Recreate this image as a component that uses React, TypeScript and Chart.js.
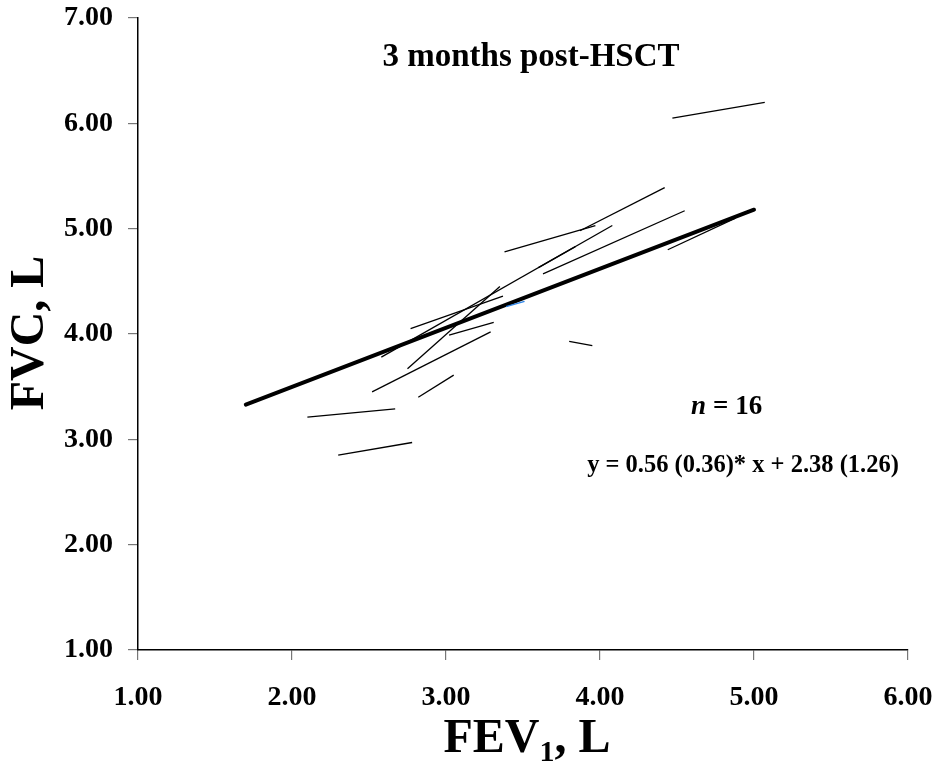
import React, { useEffect, useRef } from "react";
import { Chart, registerables } from "chart.js";

Chart.register(...registerables);

// Individual subject segments (start -> end)
const segX1 = [2.30, 2.10, 2.82, 2.52, 2.75, 2.77, 2.58, 3.60, 3.02, 3.38, 3.87, 3.63, 4.44, 4.47, 3.80];
const segY1 = [2.85, 3.21, 3.40, 3.45, 3.67, 4.05, 3.78, 4.63, 3.99, 4.78, 4.98, 4.57, 4.80, 6.05, 3.93];
const segX2 = [2.78, 2.67, 3.05, 3.29, 3.35, 3.37, 4.08, 3.84, 3.31, 3.97, 4.42, 4.55, 4.88, 5.07, 3.95];
const segY2 = [2.97, 3.29, 3.61, 4.02, 4.45, 4.36, 5.03, 4.83, 4.11, 5.03, 5.39, 5.17, 5.10, 6.20, 3.89];

// One segment drawn in blue (mostly hidden under the regression line)
const blueX = [3.39, 3.51];
const blueY = [4.26, 4.31];

// Regression line end points
const regX = [1.70, 5.00];
const regY = [3.33, 5.18];

const xTicks = [1, 2, 3, 4, 5, 6];
const yTicks = [1, 2, 3, 4, 5, 6, 7];

const titleText = "3 months post-HSCT";
const nText = "= 16";
const eqText = "y = 0.56 (0.36)* x + 2.38 (1.26)";

const FONT = '"Liberation Serif", "Times New Roman", serif';

export default function App() {
  const ref = useRef<HTMLCanvasElement>(null);

  useEffect(() => {
    document.body.style.margin = "0";
    const canvas = ref.current;
    if (!canvas) return;

    const datasets: any[] = [];
    for (let i = 0; i < segX1.length; i++) {
      datasets.push({
        data: [
          { x: segX1[i], y: segY1[i] },
          { x: segX2[i], y: segY2[i] },
        ],
        showLine: true,
        borderColor: "#000",
        borderWidth: 1.3,
        pointRadius: 0,
      });
    }
    datasets.push({
      data: blueX.map((x, i) => ({ x, y: blueY[i] })),
      showLine: true,
      borderColor: "#2f86e8",
      borderWidth: 1.5,
      pointRadius: 0,
    });
    datasets.push({
      data: regX.map((x, i) => ({ x, y: regY[i] })),
      showLine: true,
      borderColor: "#000",
      borderWidth: 4,
      borderCapStyle: "round",
      pointRadius: 0,
    });

    const textPlugin = {
      id: "texts",
      afterDraw(chart: any) {
        const ctx = chart.ctx;
        ctx.save();
        ctx.fillStyle = "#000";
        ctx.textBaseline = "middle";
        // title
        ctx.font = `bold 33px ${FONT}`;
        ctx.textAlign = "center";
        ctx.fillText(titleText, 531, 57);
        // n = 16
        ctx.textAlign = "left";
        ctx.font = `italic bold 27px ${FONT}`;
        ctx.fillText("n", 691, 407);
        ctx.font = `bold 27px ${FONT}`;
        ctx.fillText(nText, 713, 407);
        // equation
        ctx.font = `bold 24.5px ${FONT}`;
        ctx.textAlign = "center";
        ctx.fillText(eqText, 743, 466);
        // x axis title with subscript
        const p1 = "FEV";
        const p2 = ", L";
        ctx.font = `bold 48px ${FONT}`;
        const w1 = ctx.measureText(p1).width;
        const w3 = ctx.measureText(p2).width;
        ctx.font = `bold 30px ${FONT}`;
        const w2 = ctx.measureText("1").width;
        const total = w1 + w2 + w3;
        const x0 = 527 - total / 2;
        ctx.textAlign = "left";
        ctx.font = `bold 48px ${FONT}`;
        ctx.fillText(p1, x0, 740);
        ctx.font = `bold 30px ${FONT}`;
        ctx.fillText("1", x0 + w1, 753);
        ctx.font = `bold 48px ${FONT}`;
        ctx.fillText(p2, x0 + w1 + w2, 740);
        // y axis title
        ctx.translate(31, 333);
        ctx.rotate(-Math.PI / 2);
        ctx.textAlign = "center";
        ctx.font = `bold 48px ${FONT}`;
        ctx.fillText("FVC, L", 0, 0);
        ctx.restore();
      },
    };

    const zeroPad = (s: any) => {
      s.paddingTop = 0;
      s.paddingBottom = 0;
      s.paddingLeft = 0;
      s.paddingRight = 0;
    };

    const chart = new Chart(canvas, {
      type: "scatter",
      data: { datasets },
      options: {
        animation: false,
        responsive: false,
        layout: {
          autoPadding: false,
          padding: { left: 0, right: 33, top: 18, bottom: 0 },
        },
        plugins: {
          legend: { display: false },
          tooltip: { enabled: false },
          title: { display: false },
        },
        scales: {
          x: {
            type: "linear",
            min: 1,
            max: 6,
            afterFit: (s: any) => {
              s.height = 126;
              zeroPad(s);
            },
            afterBuildTicks: (s: any) => {
              s.ticks = xTicks.map((v) => ({ value: v }));
            },
            border: { color: "#000", width: 1.5 },
            grid: {
              drawOnChartArea: false,
              drawTicks: true,
              tickLength: 10,
              color: "#777",
              lineWidth: 1.2,
            },
            ticks: {
              color: "#000",
              padding: 21,
              font: { family: FONT, size: 28, weight: "bold" },
              callback: (v: any) => Number(v).toFixed(2),
              maxRotation: 0,
            },
          },
          y: {
            type: "linear",
            min: 1,
            max: 7,
            afterFit: (s: any) => {
              s.width = 138;
              zeroPad(s);
            },
            afterBuildTicks: (s: any) => {
              s.ticks = yTicks.map((v) => ({ value: v }));
            },
            border: { color: "#000", width: 1.5 },
            grid: {
              drawOnChartArea: false,
              drawTicks: true,
              tickLength: 10,
              color: "#777",
              lineWidth: 1.2,
            },
            ticks: {
              color: "#000",
              padding: 15,
              font: { family: FONT, size: 28, weight: "bold" },
              callback: (v: any) => Number(v).toFixed(2),
            },
          },
        },
      },
      plugins: [textPlugin],
    } as any);

    return () => chart.destroy();
  }, []);

  return (
    <div style={{ position: "absolute", left: 0, top: 0, width: 941, height: 776 }}>
      <canvas ref={ref} width={941} height={776} style={{ width: 941, height: 776 }} />
    </div>
  );
}
